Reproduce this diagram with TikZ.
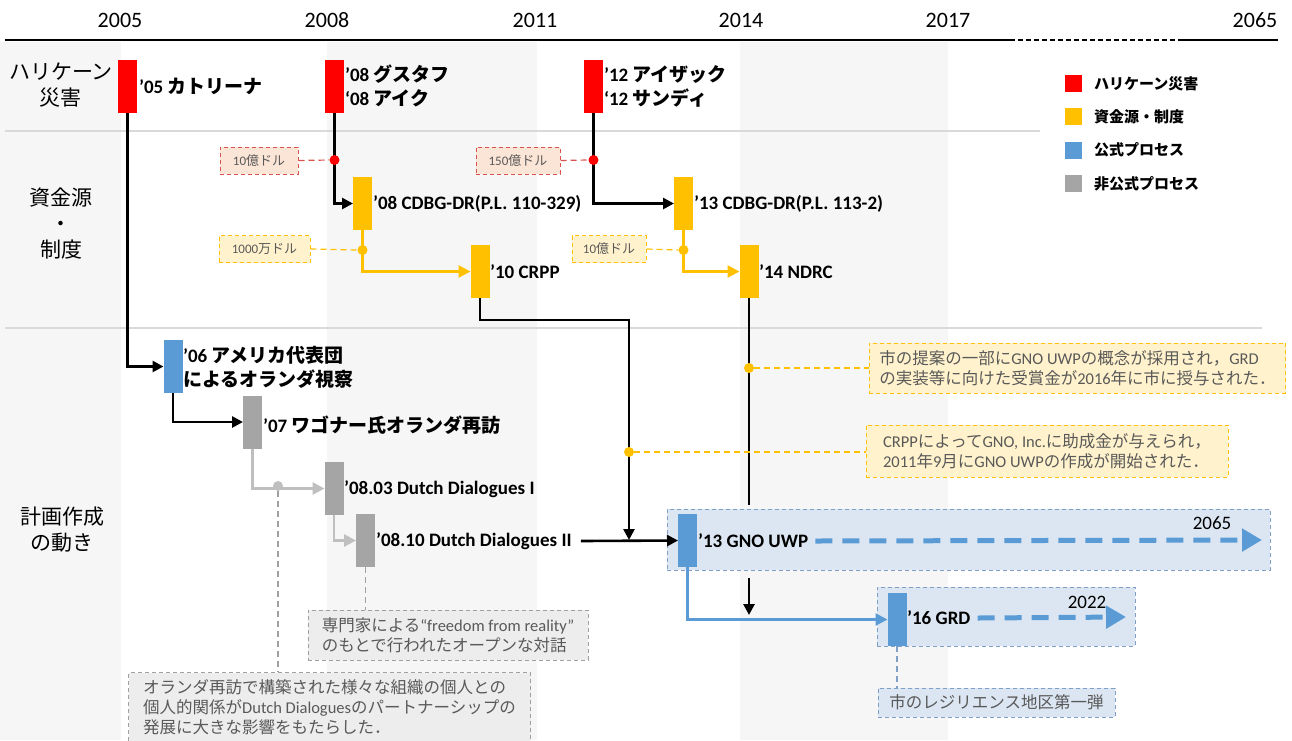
\documentclass[tikz,border=0pt]{standalone}
\usepackage{fontspec}
\setmainfont{Carlito}
\newfontfamily\jp{Noto Sans CJK JP}
\usetikzlibrary{arrows.meta}
\newcommand\J[1]{{\jp #1}}
\definecolor{hred}{HTML}{FF0000}
\definecolor{fyel}{HTML}{FFC000}
\definecolor{pblue}{HTML}{5B9BD5}
\definecolor{pgrey}{HTML}{A5A5A5}
\definecolor{lgrey}{HTML}{BFBFBF}
\definecolor{bgc}{HTML}{F6F6F6}
\definecolor{sepc}{HTML}{D9D9D9}
\definecolor{rfill}{HTML}{FBE5D6}
\definecolor{rbord}{HTML}{D9534F}
\definecolor{yfill}{HTML}{FFF2CC}
\definecolor{gfill}{HTML}{EDEDED}
\definecolor{gbord}{HTML}{A0A0A0}
\definecolor{bfill}{HTML}{DCE6F2}
\definecolor{bbord}{HTML}{7F9FC6}
\definecolor{ntext}{HTML}{595959}
\begin{document}
\begin{tikzpicture}[x=1pt,y=-1pt,
  bar/.style={minimum width=19, minimum height=53, inner sep=0, outer sep=0},
  lab/.style={anchor=west, align=left, inner sep=1, font=\bfseries\fontsize{19}{24}\selectfont},
  rowl/.style={align=center, inner sep=0, font=\fontsize{21}{26}\selectfont},
  yearl/.style={inner sep=0, font=\fontsize{22}{26}\selectfont},
  legsq/.style={minimum size=17, inner sep=0},
  legl/.style={anchor=west, inner sep=0, font=\bfseries\fontsize{15}{18}\selectfont},
  dot/.style={circle, minimum size=10, inner sep=0},
  blk/.style={line width=2.6, -{Triangle[length=11,width=11]}},
  blkline/.style={line width=2.6},
  yel/.style={line width=2.6, fyel, -{Triangle[length=12,width=12]}},
  gryl/.style={line width=2.6, lgrey, -{Triangle[length=12,width=12]}},
  bluel/.style={line width=2.2, pblue, -{Triangle[length=12,width=12]}},
  bigdash/.style={line width=5, pblue, dash pattern=on 17 off 10, -{Triangle[length=20,width=22]}},
  rdash/.style={line width=1.2, rbord, dash pattern=on 6 off 4},
  ydash/.style={line width=1.2, fyel, dash pattern=on 6 off 4},
  gdash/.style={line width=1.2, gbord, dash pattern=on 6 off 4},
  bdash/.style={line width=1.2, bbord, dash pattern=on 6 off 4},
  smallnote/.style={dash pattern=on 4 off 3, line width=1, text=ntext, minimum height=27, inner sep=2, font=\fontsize{13}{15}\selectfont},
  rnote/.style={smallnote, draw=rbord, fill=rfill},
  ynote/.style={smallnote, draw=fyel, fill=yfill},
  bignote/.style={dash pattern=on 4 off 3, line width=1, text=ntext, align=left, inner xsep=10, inner ysep=2, font=\fontsize{16.5}{20}\selectfont},
  ybig/.style={bignote, draw=fyel, fill=yfill},
  gbig/.style={bignote, draw=gbord, fill=gfill},
  bbig/.style={bignote, draw=bbord, fill=bfill},
  planbox/.style={draw=bbord, fill=bfill, dash pattern=on 4 off 3, line width=1}
]
\clip (0,0) rectangle (1292,740);
% background columns
\fill[bgc] (0,42) rectangle (121,740);
\fill[bgc] (327,42) rectangle (537,740);
\fill[bgc] (740,42) rectangle (948,740);
% axis
\draw[line width=1.5] (5,40) -- (1010,40);
\draw[line width=1.5, dash pattern=on 5 off 3] (1010,40) -- (1182,40);
\draw[line width=1.5] (1182,40) -- (1278,40);
\draw[sepc, line width=1.2] (5,131) -- (1040,131);
\draw[sepc, line width=1.2] (5,328) -- (1262,328);
% years
\node[yearl] (y05) at (120,20) {2005};
\node[yearl] (y08) at (327,20) {2008};
\node[yearl] (y11) at (535,20) {2011};
\node[yearl] (y14) at (741,20) {2014};
\node[yearl] (y17) at (948,20) {2017};
\node[yearl] (y65) at (1255,20) {2065};
% row labels
\node[rowl] (r1) at (61,85) {\J{ハリケーン}\\\J{災害}};
\node[rowl] (r2) at (61,224) {\J{資金源}\\\J{・}\\\J{制度}};
\node[rowl] (r3) at (62,530) {\J{計画作成}\\\J{の動き}};
% legend
\node[legsq, fill=hred] (lg1) at (1073.5,83.5) {};
\node[legl] (lt1) at (1094,84) {\J{ハリケーン災害}};
\node[legsq, fill=fyel] (lg2) at (1073.5,116.5) {};
\node[legl] (lt2) at (1094,117) {\J{資金源・制度}};
\node[legsq, fill=pblue] (lg3) at (1073.5,150) {};
\node[legl] (lt3) at (1094,150) {\J{公式プロセス}};
\node[legsq, fill=pgrey] (lg4) at (1073.5,183.5) {};
\node[legl] (lt4) at (1094,184) {\J{非公式プロセス}};
% plan boxes
\node[planbox, minimum width=603, minimum height=61] (gnobox) at (968.5,539.5) {};
\node[planbox, minimum width=258, minimum height=59] (grdbox) at (1006,616.5) {};
% notes
\node[rnote, minimum width=78] (n1) at (259,160.5) {10\J{億ドル}};
\node[rnote, minimum width=84] (n2) at (518,160.5) {150\J{億ドル}};
\node[ynote, minimum width=91] (n3) at (264.5,249) {1000\J{万ドル}};
\node[ynote, minimum width=74] (n4) at (609,249) {10\J{億ドル}};
\node[ybig, minimum width=411, minimum height=50] (n5) at (1077.5,368) {\J{市の提案の一部に}GNO UWP\J{の概念が採用され，}GRD\\\J{の実装等に向けた受賞金が}2016\J{年に市に授与された．}};
\node[ybig, minimum width=362, minimum height=52] (n6) at (1047,451) {CRPP\J{によって}GNO, Inc.\J{に助成金が与えられ，}\\2011\J{年}9\J{月に}GNO UWP\J{の作成が開始された．}};
\node[gbig, minimum width=280, minimum height=50] (n7) at (448,635) {\J{専門家による}“freedom from reality”\\\J{のもとで行われたオープンな対話}};
\node[gbig, minimum width=402, minimum height=70, anchor=north west] (n8) at (128,672) {\J{オランダ再訪で構築された様々な組織の個人との}\\\J{個人的関係が}Dutch Dialogues\J{のパートナーシップの}\\\J{発展に大きな影響をもたらした．}};
\node[bbig, minimum width=237, minimum height=29] (n9) at (996.5,702.5) {\J{市のレジリエンス地区第一弾}};
% hurricanes
\node[bar, fill=hred] (h05) at (127.5,86.5) {};
\node[lab] (h05l) at (138,86) {’05 \J{カトリーナ}};
\node[bar, fill=hred] (h08) at (334.5,86.5) {};
\node[lab] (h08l) at (344,86) {’08 \J{グスタフ}\\‘08 \J{アイク}};
\node[bar, fill=hred] (h12) at (593.5,86.5) {};
\node[lab] (h12l) at (603,86) {’12 \J{アイザック}\\‘12 \J{サンディ}};
% funding
\node[bar, fill=fyel] (c08) at (362.5,203.5) {};
\node[lab] (c08l) at (372,204) {’08 CDBG-DR(P.L. 110-329)};
\node[bar, fill=fyel] (crpp) at (480,271.5) {};
\node[lab] (crppl) at (489,272) {’10 CRPP};
\node[bar, fill=fyel] (c13) at (683.5,203.5) {};
\node[lab] (c13l) at (693,204) {’13 CDBG-DR(P.L. 113-2)};
\node[bar, fill=fyel] (ndrc) at (749,271.5) {};
\node[lab] (ndrcl) at (758,272) {’14 NDRC};
% planning
\node[bar, fill=pblue] (a06) at (173,366.5) {};
\node[lab] (a06l) at (182,367) {’06 \J{アメリカ代表団}\\\J{によるオランダ視察}};
\node[bar, fill=pgrey] (w07) at (252.5,422) {};
\node[lab] (w07l) at (262,425) {’07 \J{ワゴナー氏オランダ再訪}};
\node[bar, fill=pgrey] (dd1) at (334,488.5) {};
\node[lab] (dd1l) at (343,489) {’08.03 Dutch Dialogues I};
\node[bar, fill=pgrey] (dd2) at (365.5,540.5) {};
\node[lab] (dd2l) at (375,541) {’08.10 Dutch Dialogues II};
\node[bar, fill=pblue] (gno) at (687.5,540.5) {};
\node[lab] (gnol) at (697,541) {’13 GNO UWP};
\node[bar, fill=pblue] (grd) at (897,619.5) {};
\node[lab] (grdl) at (906,618) {’16 GRD};
\node[yearl, font=\fontsize{19}{22}\selectfont] (e65) at (1212,523) {2065};
\node[yearl, font=\fontsize{19}{22}\selectfont] (e22) at (1087,602) {2022};
% coordinates
\coordinate (j1) at (629,320);
\coordinate (m1) at (629,540);
\coordinate (nd1) at (749,505);
\coordinate (k1) at (749,578);
\coordinate (k2) at (749,615);
\coordinate (gnoend) at (1262,540);
\coordinate (grdend) at (1126,617);
% connectors
\draw[blk] (h05.south) |- (a06.west);
\draw[blk] (h08.south) |- (c08.west);
\draw[yel] (c08.south) |- (crpp.west);
\draw[blk] (h12.south) |- (c13.west);
\draw[yel] (c13.south) |- (ndrc.west);
\draw[blk] (crpp.south) |- (j1) -- (m1);
\draw[blkline] (ndrc.south) -- (nd1);
\draw[blk] (k1) -- (k2);
\draw[blk] ([xshift=8]dd2l.east) -- (gno.west);
\draw[blk] (a06.south) |- (w07.west);
\draw[gryl] (w07.south) |- (dd1.west);
\draw[gryl] (dd1.south) |- (dd2.west);
\draw[bluel] (gno.south) |- (grd.west);
\draw[bigdash] ([xshift=6]gnol.east) -- (gnoend);
\draw[bigdash] ([xshift=6]grdl.east) -- (grdend);
% dots
\node[dot, fill=hred] (d1) at (334.5,160) {};
\node[dot, fill=hred] (d2) at (593.5,160) {};
\node[dot, fill=fyel] (d3) at (362.5,250) {};
\node[dot, fill=fyel] (d4) at (683.5,250) {};
\node[dot, fill=fyel] (d5) at (629,452) {};
\node[dot, fill=fyel] (d6) at (749,368) {};
\node[dot, fill=lgrey] (d7) at (278,486) {};
% dashed note connectors
\draw[rdash] (n1.east) -- (d1.west);
\draw[rdash] (n2.east) -- (d2.west);
\draw[ydash] (n3.east) -- (d3.west);
\draw[ydash] (n4.east) -- (d4.west);
\draw[ydash] (d5.east) -- (d5.east -| n6.west);
\draw[ydash] (d6.east) -- (d6.east -| n5.west);
\draw[gdash] (d7.south) -- (d7.south |- n8.north);
\draw[gdash] (dd2.south) -- (dd2.south |- n7.north);
\draw[bdash] (grd.south) -- (grd.south |- n9.north);
\end{tikzpicture}
\end{document}
